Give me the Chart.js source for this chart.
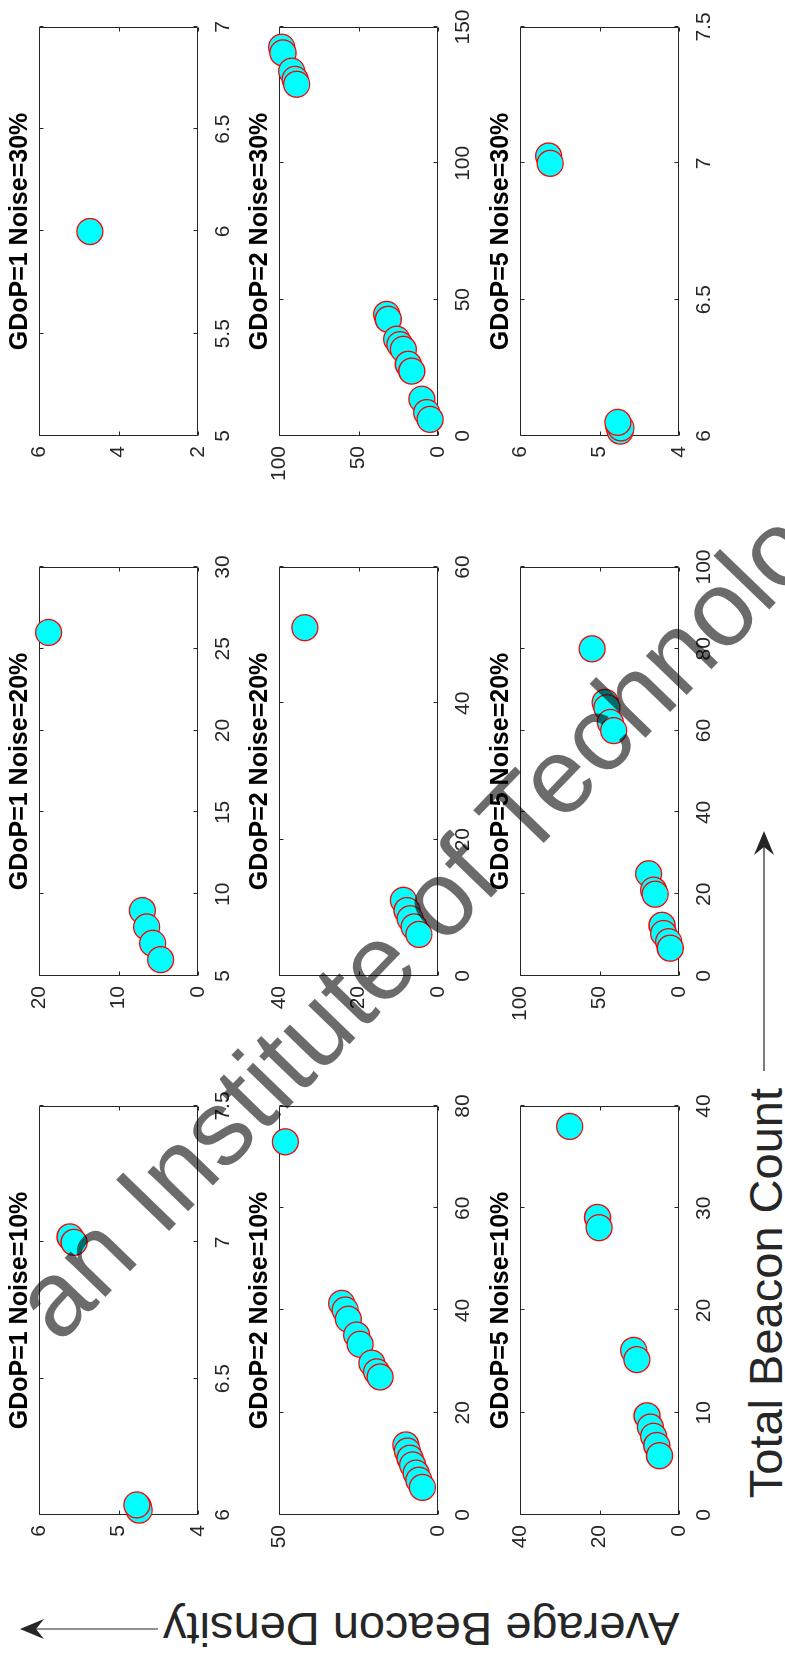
<!DOCTYPE html>
<html>
<head>
<meta charset="utf-8">
<script src="https://cdn.jsdelivr.net/npm/chart.js@4.4.1/dist/chart.umd.min.js"></script>
<style>
  html, body { margin: 0; padding: 0; background: #fff; }
  #page { position: relative; width: 785px; height: 1653px; overflow: hidden; background: #fff; }
  /* the figure is laid out landscape and turned a quarter turn counter-clockwise */
  #fig { position: absolute; left: 0; top: 0; width: 1653px; height: 785px;
         transform-origin: 0 0; transform: translate(0, 1653px) rotate(-90deg); }
  #fig canvas { position: absolute; }
  #labels { position: absolute; left: 0; top: 0; }
  #wm { position: absolute; left: 0; top: 0; pointer-events: none; }
</style>
</head>
<body>
<div id="page">
  <div id="fig">
    <svg id="labels" width="1653" height="785" xmlns="http://www.w3.org/2000/svg">
      <g font-family="'Liberation Sans', Arial, Helvetica, sans-serif" font-size="47" fill="#262626">
        <text x="565" y="782" text-anchor="end">Total Beacon Count</text>
        <text transform="translate(40,163) rotate(-90)" text-anchor="end">Average Beacon Density</text>
      </g>
      <g stroke="#262626" stroke-width="1.2" fill="none">
        <line x1="582" y1="764" x2="808" y2="764"/>
        <line x1="24" y1="158" x2="24" y2="34"/>
      </g>
      <g fill="#262626">
        <polygon points="822,764 798,754 806,764 798,774"/>
        <polygon points="24,20 14,44 24,36 34,44"/>
      </g>
    </svg>
  </div>
  <svg id="wm" width="785" height="1653" xmlns="http://www.w3.org/2000/svg">
    <text x="59" y="1345" transform="rotate(-46 59 1345)"
          font-family="'Liberation Sans', Arial, Helvetica, sans-serif" font-size="107"
          fill="#000" fill-opacity="0.58">an Institute of Technology</text>
  </svg>
</div>
<script>
// Total beacon count (x) and average beacon density (y) for each GDoP / noise case
const gdop1Noise10X = [6.03, 6.018, 6.037, 7.02, 7.0];
const gdop1Noise10Y = [4.75, 4.74, 4.77, 5.61, 5.56];
const gdop1Noise20X = [26, 9, 8, 7, 6];
const gdop1Noise20Y = [18.8, 7.0, 6.45, 5.7, 4.7];
const gdop1Noise30X = [6.0];
const gdop1Noise30Y = [4.72];

const gdop2Noise10X = [73, 41.4, 40.1, 38.3, 35.2, 33.4, 29.7, 28, 27, 13.7, 12.5, 11.1, 9.8, 8.2, 6.8, 5.4];
const gdop2Noise10Y = [48, 30.3, 29.2, 28.2, 25.6, 24.5, 20.8, 19.3, 18.2, 10.1, 9.6, 8.8, 8.0, 6.9, 6.0, 4.9];
const gdop2Noise20X = [51.1, 11.1, 9.6, 8.4, 7.2, 6.1];
const gdop2Noise20Y = [33.5, 8.7, 7.8, 7.0, 6.0, 4.8];
const gdop2Noise30X = [142.6, 140.5, 133.8, 130.8, 129, 44.6, 42.8, 35.5, 33.5, 31.8, 26.3, 23.8, 13.5, 8.6, 6.1];
const gdop2Noise30Y = [98.3, 97.5, 92, 89.9, 88.9, 32.3, 31.3, 26, 24, 21.8, 18.7, 16.5, 10.2, 7.1, 5.0];

const gdop5Noise10X = [38, 29.1, 28.1, 16.1, 15.2, 9.7, 8.6, 7.7, 6.8, 5.8];
const gdop5Noise10Y = [27.5, 20.5, 20.1, 11.4, 10.6, 8.05, 7.2, 6.4, 5.6, 4.9];
const gdop5Noise20X = [80, 66.9, 65.6, 62, 60, 25, 21, 20, 12.4, 10.4, 8.4, 6.8];
const gdop5Noise20Y = [54.7, 46.4, 45.3, 43.2, 41.1, 19.1, 16, 15, 10.7, 9.7, 6.5, 5.5];
const gdop5Noise30X = [7.027, 7.0, 6.037, 6.018, 6.03, 6.05];
const gdop5Noise30Y = [5.64, 5.62, 4.76, 4.74, 4.73, 4.77];

// Panel titles and tick labels
const gdopLevels = [1, 2, 5];
const noiseLevels = ['10%', '20%', '30%'];
const xTickSets = [
  [[6, 6.5, 7, 7.5], [5, 10, 15, 20, 25, 30], [5, 5.5, 6, 6.5, 7]],
  [[0, 20, 40, 60, 80], [0, 20, 40, 60], [0, 50, 100, 150]],
  [[0, 10, 20, 30, 40], [0, 20, 40, 60, 80, 100], [6, 6.5, 7, 7.5]]
];
const yTickSets = [
  [[4, 5, 6], [0, 10, 20], [2, 4, 6]],
  [[0, 50], [0, 20, 40], [0, 50, 100]],
  [[0, 20, 40], [0, 50, 100], [4, 5, 6]]
];
const seriesX = [
  [gdop1Noise10X, gdop1Noise20X, gdop1Noise30X],
  [gdop2Noise10X, gdop2Noise20X, gdop2Noise30X],
  [gdop5Noise10X, gdop5Noise20X, gdop5Noise30X]
];
const seriesY = [
  [gdop1Noise10Y, gdop1Noise20Y, gdop1Noise30Y],
  [gdop2Noise10Y, gdop2Noise20Y, gdop2Noise30Y],
  [gdop5Noise10Y, gdop5Noise20Y, gdop5Noise30Y]
];

const FONT = "'Liberation Sans', Arial, Helvetica, sans-serif";
const AXIS = '#262626';
const plainNumber = v => String(+Number(v).toFixed(3));

// Boxed axes with short inward ticks on all four sides
const boxAxes = {
  id: 'boxAxes',
  beforeDatasetsDraw(chart) {
    const { ctx, chartArea: a, scales: { x, y } } = chart;
    const L = Math.round(a.left) + 0.5, R = Math.round(a.right) - 0.5;
    const T = Math.round(a.top) + 0.5, B = Math.round(a.bottom) - 0.5;
    ctx.save();
    ctx.strokeStyle = AXIS;
    ctx.lineWidth = 1;
    ctx.beginPath();
    ctx.rect(L, T, R - L, B - T);
    x.ticks.forEach(t => {
      const p = Math.round(x.getPixelForValue(t.value)) + 0.5;
      ctx.moveTo(p, B); ctx.lineTo(p, B - 4);
      ctx.moveTo(p, T); ctx.lineTo(p, T + 4);
    });
    y.ticks.forEach(t => {
      const p = Math.round(y.getPixelForValue(t.value)) + 0.5;
      ctx.moveTo(L, p); ctx.lineTo(L + 4, p);
      ctx.moveTo(R, p); ctx.lineTo(R - 4, p);
    });
    ctx.stroke();
    ctx.restore();
  }
};

const fig = document.getElementById('fig');
const BOX_W = 409, BOX_H = 159, M_LEFT = 60, M_RIGHT = 60, M_TOP = 39, M_BOTTOM = 40;

for (let r = 0; r < 3; r++) {
  for (let c = 0; c < 3; c++) {
    const xt = xTickSets[r][c], yt = yTickSets[r][c];
    const xs = seriesX[r][c], ys = seriesY[r][c];
    const cv = document.createElement('canvas');
    cv.width = M_LEFT + BOX_W + M_RIGHT;
    cv.height = M_TOP + BOX_H + M_BOTTOM;
    cv.style.left = (Math.round(138 + c * 539.3) - M_LEFT) + 'px';
    cv.style.top = (Math.round(39 + r * 240.3) - M_TOP) + 'px';
    fig.appendChild(cv);

    new Chart(cv, {
      type: 'scatter',
      data: {
        datasets: [{
          data: xs.map((v, k) => ({ x: v, y: ys[k] })),
          pointRadius: 13,
          pointHoverRadius: 13,
          pointBackgroundColor: '#00FFFF',
          pointBorderColor: '#FF0000',
          pointBorderWidth: 1.3,
          clip: false
        }]
      },
      options: {
        responsive: false,
        animation: false,
        devicePixelRatio: 1,
        events: [],
        layout: { padding: { left: 0, right: M_RIGHT, top: 0, bottom: 0 }, autoPadding: false },
        plugins: {
          legend: { display: false },
          tooltip: { enabled: false },
          title: {
            display: true,
            fullSize: false,
            text: 'GDoP=' + gdopLevels[r] + ' Noise=' + noiseLevels[c],
            color: '#000',
            font: { family: FONT, size: 25, weight: 'bold', lineHeight: 1 },
            padding: { top: 8, bottom: 6 }
          }
        },
        scales: {
          x: {
            type: 'linear',
            min: xt[0], max: xt[xt.length - 1],
            grid: { display: false, drawTicks: false },
            border: { display: false },
            ticks: { font: { family: FONT, size: 21 }, color: AXIS, padding: 13, maxRotation: 0, autoSkip: false, callback: plainNumber },
            afterBuildTicks: s => { s.ticks = xt.map(v => ({ value: v })); },
            afterFit: s => { s.height = M_BOTTOM; }
          },
          y: {
            type: 'linear',
            min: yt[0], max: yt[yt.length - 1],
            grid: { display: false, drawTicks: false },
            border: { display: false },
            ticks: { font: { family: FONT, size: 21 }, color: AXIS, padding: 10, autoSkip: false, callback: plainNumber },
            afterBuildTicks: s => { s.ticks = yt.map(v => ({ value: v })); },
            afterFit: s => { s.width = M_LEFT; }
          }
        }
      },
      plugins: [boxAxes]
    });
  }
}
</script>
</body>
</html>
